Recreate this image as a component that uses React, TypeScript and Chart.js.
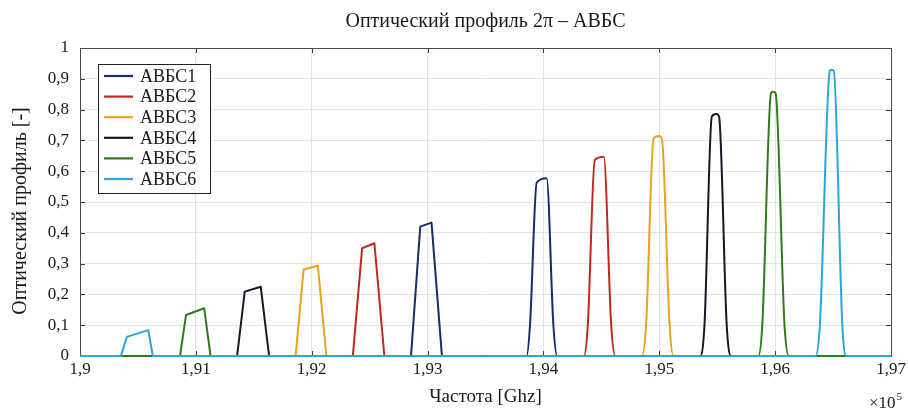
import { useEffect, useRef } from "react";
import { Chart, registerables } from "chart.js";

Chart.register(...registerables);

const titleText = "Оптический профиль 2π – АВБС";
const xTitle = "Частота [Ghz]";
const yTitle = "Оптический профиль [-]";
const xMultiplier = "×10";
const xExponent = "5";

const seriesNames = ["АВБС1", "АВБС2", "АВБС3", "АВБС4", "АВБС5", "АВБС6"];
const seriesColors = ["#142c6c", "#c4271d", "#e9a11e", "#1c1426", "#2f7a1c", "#2ba5e0"];

// frequency (×10^5 GHz) and optical profile values
// low (first) peak of every channel
const abbc1LowX = [1.9, 1.92857, 1.92937, 1.93034, 1.93124, 1.935];
const abbc1LowY = [0, 0, 0.42, 0.433, 0, 0];
const abbc2LowX = [1.9, 1.92355, 1.92435, 1.92541, 1.92627, 1.935];
const abbc2LowY = [0, 0, 0.35, 0.366, 0, 0];
const abbc3LowX = [1.9, 1.91861, 1.9193, 1.92053, 1.92126, 1.935];
const abbc3LowY = [0, 0, 0.281, 0.293, 0, 0];
const abbc4LowX = [1.9, 1.91356, 1.91422, 1.9156, 1.91632, 1.935];
const abbc4LowY = [0, 0, 0.209, 0.225, 0, 0];
const abbc5LowX = [1.9, 1.90863, 1.90915, 1.91072, 1.91127, 1.935];
const abbc5LowY = [0, 0, 0.133, 0.155, 0, 0];
const abbc6LowX = [1.9, 1.90353, 1.90404, 1.9059, 1.90628, 1.935];
const abbc6LowY = [0, 0, 0.062, 0.084, 0, 0];

// high (second) peak of every channel
const abbc1HighX = [1.935, 1.93855, 1.93884, 1.93942, 1.94028, 1.94086, 1.94119, 1.97];
const abbc1HighY = [0, 0, 0.1, 0.563, 0.577, 0.1, 0, 0];
const abbc2HighX = [1.935, 1.94349, 1.94383, 1.94443, 1.94521, 1.94585, 1.94621, 1.97];
const abbc2HighY = [0, 0, 0.1, 0.636, 0.647, 0.1, 0, 0];
const abbc3HighX = [1.935, 1.9485, 1.94886, 1.94951, 1.95, 1.95022, 1.95089, 1.95123, 1.97];
const abbc3HighY = [0, 0, 0.1, 0.707, 0.714, 0.707, 0.1, 0, 0];
const abbc4HighX = [1.935, 1.95353, 1.9539, 1.95453, 1.95491, 1.95516, 1.95582, 1.9562, 1.97];
const abbc4HighY = [0, 0, 0.1, 0.777, 0.786, 0.777, 0.1, 0, 0];
const abbc5HighX = [1.935, 1.95854, 1.95889, 1.95964, 1.95984, 1.96004, 1.96081, 1.96119, 1.97];
const abbc5HighY = [0, 0, 0.1, 0.853, 0.858, 0.853, 0.1, 0, 0];
const abbc6HighX = [1.935, 1.96348, 1.96386, 1.96472, 1.96486, 1.96506, 1.9658, 1.96614, 1.97];
const abbc6HighY = [0, 0, 0.1, 0.926, 0.929, 0.926, 0.1, 0, 0];

const lowX = [abbc1LowX, abbc2LowX, abbc3LowX, abbc4LowX, abbc5LowX, abbc6LowX];
const lowY = [abbc1LowY, abbc2LowY, abbc3LowY, abbc4LowY, abbc5LowY, abbc6LowY];
const highX = [abbc1HighX, abbc2HighX, abbc3HighX, abbc4HighX, abbc5HighX, abbc6HighX];
const highY = [abbc1HighY, abbc2HighY, abbc3HighY, abbc4HighY, abbc5HighY, abbc6HighY];

const xMin = 1.9;
const xMax = 1.97;
const xStep = 0.01;
const yMin = 0;
const yMax = 1;
const yStep = 0.1;

const SERIF = "'Liberation Serif', 'Times New Roman', serif";

const fmt = (v: number, digits: number) => {
  const r = Math.round(v * Math.pow(10, digits)) / Math.pow(10, digits);
  return String(r).replace(".", ",");
};

const framePlugin = {
  id: "frame",
  beforeDatasetsDraw(chart: any) {
    const { ctx, chartArea } = chart;
    const { left, right, top, bottom } = chartArea;
    const xs = chart.scales.x;
    const ys = chart.scales.y;
    ctx.save();
    ctx.strokeStyle = "#3c3c3c";
    ctx.lineWidth = 1;
    ctx.beginPath();
    const tl = 5;
    xs.ticks.forEach((t: any) => {
      const px = Math.round(xs.getPixelForValue(t.value)) + 0.5;
      ctx.moveTo(px, bottom);
      ctx.lineTo(px, bottom - tl);
      ctx.moveTo(px, top);
      ctx.lineTo(px, top + tl);
    });
    ys.ticks.forEach((t: any) => {
      const py = Math.round(ys.getPixelForValue(t.value)) + 0.5;
      ctx.moveTo(left, py);
      ctx.lineTo(left + tl, py);
      ctx.moveTo(right, py);
      ctx.lineTo(right - tl, py);
    });
    ctx.stroke();
    ctx.strokeStyle = "#4a4a4a";
    ctx.strokeRect(Math.round(left) + 0.5, Math.round(top) + 0.5, Math.round(right - left), Math.round(bottom - top));
    ctx.restore();
  },
};

const textPlugin = {
  id: "texts",
  afterDraw(chart: any) {
    const { ctx, chartArea } = chart;
    const { left, right, top, bottom } = chartArea;
    const cx = (left + right) / 2;
    ctx.save();
    ctx.fillStyle = "#1a1a1a";
    ctx.textAlign = "center";
    ctx.textBaseline = "middle";
    ctx.font = `20px ${SERIF}`;
    ctx.fillText(titleText, cx, 22);

    ctx.font = `19px ${SERIF}`;
    ctx.fillText(xTitle, cx, 397);

    ctx.save();
    ctx.translate(21, (top + bottom) / 2 + 9);
    ctx.rotate(-Math.PI / 2);
    ctx.font = `20px ${SERIF}`;
    ctx.fillText(yTitle, 0, 0);
    ctx.restore();

    ctx.textAlign = "left";
    ctx.font = `17px ${SERIF}`;
    ctx.fillText(xMultiplier, 869, 404);
    const w = ctx.measureText(xMultiplier).width;
    ctx.font = `11px ${SERIF}`;
    ctx.fillText(xExponent, 869 + w + 1, 397);

    // legend
    const lx = 98, ly = 64, lw = 112, lh = 129;
    ctx.fillStyle = "#ffffff";
    ctx.fillRect(lx, ly, lw, lh);
    ctx.strokeStyle = "#222";
    ctx.lineWidth = 1;
    ctx.strokeRect(lx + 0.5, ly + 0.5, lw, lh);
    ctx.font = `18px ${SERIF}`;
    ctx.textBaseline = "middle";
    seriesNames.forEach((name, i) => {
      const y = 76 + i * 20.6;
      ctx.strokeStyle = seriesColors[i];
      ctx.lineWidth = 2.2;
      ctx.beginPath();
      ctx.moveTo(104, y);
      ctx.lineTo(133, y);
      ctx.stroke();
      ctx.fillStyle = "#1a1a1a";
      ctx.fillText(name, 140, y + 1);
    });
    ctx.restore();
  },
};

export default function App() {
  const ref = useRef<HTMLCanvasElement | null>(null);

  useEffect(() => {
    if (!ref.current) return;
    const datasets: any[] = [];
    seriesNames.forEach((name, i) => {
      const common = {
        borderColor: seriesColors[i],
        backgroundColor: seriesColors[i],
        borderWidth: 2,
        pointRadius: 0,
        borderJoinStyle: "round" as const,
        fill: false,
        clip: false as any,
        order: seriesNames.length - i,
      };
      datasets.push({
        ...common,
        label: name,
        data: lowX[i].map((x, j) => ({ x, y: lowY[i][j] })),
        tension: 0,
      });
      datasets.push({
        ...common,
        label: name,
        data: highX[i].map((x, j) => ({ x, y: highY[i][j] })),
        cubicInterpolationMode: "monotone" as const,
      });
    });
    const tickFont = { family: SERIF, size: 17 };
    const chart = new Chart(ref.current, {
      type: "line",
      data: { datasets },
      options: {
        animation: false,
        responsive: false,
        maintainAspectRatio: false,
        layout: { padding: { top: 48, right: 17, left: 0, bottom: 0 } },
        plugins: {
          legend: { display: false },
          title: { display: false },
          tooltip: { enabled: false },
        },
        scales: {
          x: {
            type: "linear",
            min: xMin,
            max: xMax,
            afterFit: (s: any) => {
              s.height = 56;
              s.paddingLeft = 0;
              s.paddingRight = 0;
            },
            border: { display: false },
            grid: { color: "#e4e4e4", drawTicks: false, lineWidth: 1 },
            ticks: {
              stepSize: xStep,
              padding: 3,
              autoSkip: false,
              maxRotation: 0,
              color: "#1a1a1a",
              font: tickFont,
              callback: (v: any) => fmt(Number(v), 2),
            },
          },
          y: {
            type: "linear",
            min: yMin,
            max: yMax,
            afterFit: (s: any) => {
              s.width = 80;
              s.paddingTop = 0;
              s.paddingBottom = 0;
            },
            border: { display: false },
            grid: { color: "#e4e4e4", drawTicks: false, lineWidth: 1 },
            ticks: {
              stepSize: yStep,
              padding: 11,
              color: "#1a1a1a",
              font: tickFont,
              callback: (v: any) => fmt(Number(v), 1),
            },
          },
        },
      },
      plugins: [framePlugin, textPlugin],
    });
    return () => chart.destroy();
  }, []);

  return (
    <div style={{ position: "fixed", left: 0, top: 0, width: 908, height: 412, background: "#fff" }}>
      <canvas ref={ref} width={908} height={412} style={{ display: "block", width: 908, height: 412 }} />
    </div>
  );
}
